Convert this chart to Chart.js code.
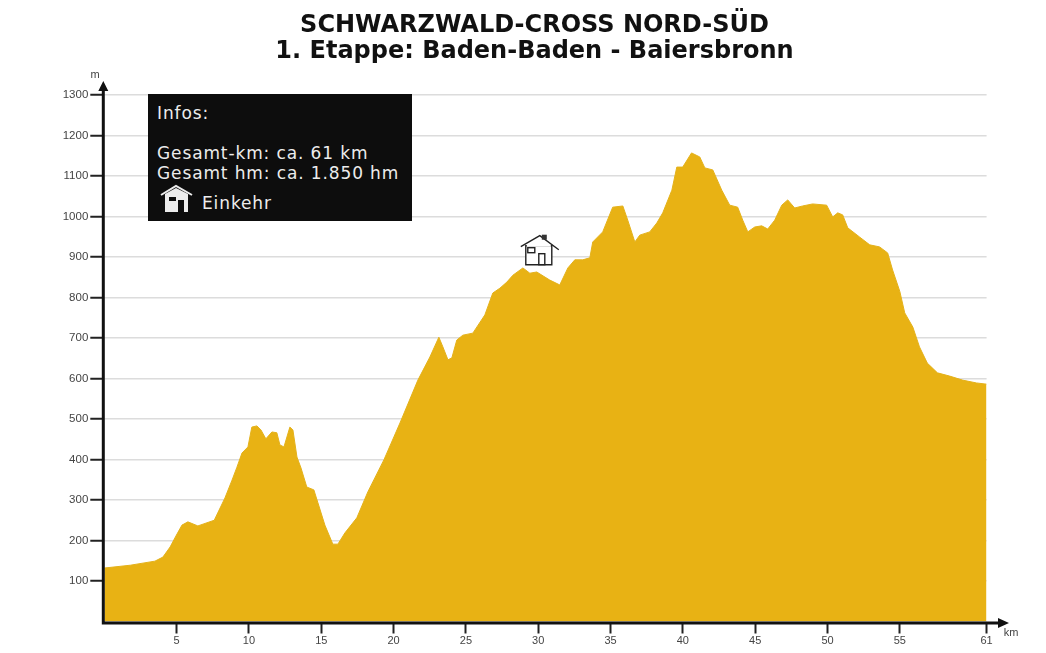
<!DOCTYPE html>
<html lang="de">
<head>
<meta charset="utf-8">
<title>Schwarzwald-Cross Nord-Süd</title>
<script src="https://cdn.jsdelivr.net/npm/chart.js@4"></script>
<style>
  html, body { margin: 0; padding: 0; background: #ffffff; }
  #wrap { position: relative; width: 1046px; height: 653px; overflow: hidden; }
  #titel {
    position: absolute; left: 0; top: 11px; width: 1069px; margin: 0;
    text-align: center; color: #111111;
    font: bold 24px/26px "DejaVu Sans", sans-serif;
  }
  #infos {
    position: absolute; left: 148px; top: 94px; width: 264px; height: 127px;
    background: #0d0d0d; color: #ececec;
    font: 17px "DejaVu Sans", sans-serif;
    letter-spacing: 0.88px;
  }
  #infos span { position: absolute; white-space: nowrap; line-height: 20px; }
  #infos svg { position: absolute; left: 12px; top: 90px; }
</style>
</head>
<body>
<div id="wrap">
  <h1 id="titel">SCHWARZWALD-CROSS NORD-SÜD<br>1. Etappe: Baden-Baden - Baiersbronn</h1>
  <canvas id="profil" width="1046" height="653"></canvas>
  <div id="infos">
    <span style="left:9px;top:9px">Infos:</span>
    <span style="left:9px;top:49px">Gesamt-km: ca. 61 km</span>
    <span style="left:9px;top:69px">Gesamt hm: ca. 1.850 hm</span>
    <span style="left:54px;top:99px">Einkehr</span>
    <svg width="36" height="30" viewBox="0 0 36 30">
      <path d="M1 11 L16 2 L32 11" fill="none" stroke="#ececec" stroke-width="2"/>
      <path d="M5 10 L16 4 L28 10 L28 28 L5 28 Z" fill="#ececec"/>
      <rect x="9" y="13" width="7" height="4" fill="#0d0d0d"/>
      <rect x="18" y="16" width="6" height="12" fill="#0d0d0d"/>
    </svg>
  </div>
</div>
<script>
// Höhenprofil
const streckeKm = [
  0, 1.8, 3.5, 4.05, 4.55, 4.95, 5.37, 5.78, 6.47, 7.6, 8.34, 8.83, 9.17, 9.52, 9.93,
  10.2, 10.55, 10.83, 11.17, 11.59, 11.93, 12.14, 12.42, 12.83, 13.04, 13.32, 13.6,
  14.0, 14.49, 14.77, 15.25, 15.8, 16.15, 16.64, 17.46, 18.22, 19.33, 20.44, 21.68,
  22.51, 23.13, 23.41, 23.76, 24.03, 24.37, 24.79, 25.48, 26.31, 26.86, 27.35, 27.83,
  28.25, 28.94, 29.42, 29.9, 30.8, 31.49, 32.05, 32.53, 33.08, 33.57, 33.77, 34.46,
  35.15, 35.85, 36.19, 36.68, 37.02, 37.71, 38.2, 38.61, 39.24, 39.58, 39.99, 40.6,
  41.17, 41.52, 42.07, 42.69, 43.24, 43.79, 44.14, 44.49, 44.97, 45.45, 45.87, 46.35,
  46.84, 47.25, 47.73, 48.28, 48.97, 49.94, 50.36, 50.71, 51.05, 51.4, 52.23, 52.92,
  53.6, 54.16, 54.5, 55.0, 55.34, 55.9, 56.36, 56.9, 57.6, 58.44, 59.34, 60.3, 61
];
const hoeheM = [
  132, 139, 149, 159, 184, 211, 238, 246, 236, 250, 305, 349, 381, 416, 431,
  480, 483, 473, 451, 468, 466, 436, 431, 480, 473, 406, 379,
  332, 325, 293, 238, 191, 191, 219, 256, 320, 399, 490, 596,
  653, 702, 678, 646, 651, 695, 707, 712, 757, 811, 823, 838,
  855, 873, 860, 863, 843, 831, 873, 893, 893, 898, 937, 962,
  1023, 1026, 991, 937, 954, 962, 984, 1009, 1065, 1122, 1122, 1157,
  1147, 1120, 1115, 1065, 1028, 1023, 991, 962, 974, 977, 969, 991,
  1028, 1041, 1021, 1026, 1031, 1028, 999, 1009, 1004, 972, 949, 930,
  925, 910, 868, 815, 762, 727, 678, 638, 614, 606, 596, 589, 586
];
const kmTicks = [5, 10, 15, 20, 25, 30, 35, 40, 45, 50, 55, 61];
const einkehrKm = [30.04];
const einkehrM = [881];

function zeichneHaus(ctx, x, y) {
  ctx.save();
  ctx.translate(x, y);
  ctx.strokeStyle = "#222222";
  ctx.lineWidth = 1.4;
  ctx.fillStyle = "#ffffff";
  ctx.beginPath();
  ctx.rect(-13, -19, 26, 19);
  ctx.fill();
  ctx.stroke();
  ctx.fillRect(-12, -27, 24, 9);
  ctx.beginPath();
  ctx.moveTo(-18, -18);
  ctx.lineTo(1, -29);
  ctx.lineTo(20, -15);
  ctx.stroke();
  ctx.fillStyle = "#333333";
  ctx.fillRect(3, -30, 5, 5);
  ctx.strokeRect(-11, -17, 7, 5);
  ctx.strokeRect(0, -11, 6, 11);
  ctx.restore();
}

// Achsen mit Pfeilspitzen, Einheiten und das Einkehr-Symbol
const achsenPlugin = {
  id: "achsen",
  afterDatasetsDraw(chart) {
    const { ctx, scales } = chart;
    const x0 = 103.3;
    const y0 = 623;

    einkehrKm.forEach((km, i) => {
      zeichneHaus(ctx, scales.x.getPixelForValue(km), scales.y.getPixelForValue(einkehrM[i]));
    });

    ctx.save();
    ctx.strokeStyle = "#111111";
    ctx.fillStyle = "#111111";
    ctx.lineWidth = 3;
    ctx.beginPath();
    ctx.moveTo(x0, y0 + 1.5);
    ctx.lineTo(x0, 88);
    ctx.moveTo(x0, y0);
    ctx.lineTo(1000, y0);
    ctx.stroke();

    ctx.beginPath();
    ctx.moveTo(x0, 81);
    ctx.lineTo(x0 + 5, 91);
    ctx.lineTo(x0 - 5, 91);
    ctx.closePath();
    ctx.moveTo(1009, y0);
    ctx.lineTo(998, y0 - 5);
    ctx.lineTo(998, y0 + 5);
    ctx.closePath();
    ctx.fill();

    ctx.fillStyle = "#444444";
    ctx.font = '11px "Liberation Sans", sans-serif';
    ctx.textAlign = "center";
    ctx.textBaseline = "middle";
    ctx.fillText("m", 95, 75);
    ctx.fillText("km", 1011, 633);
    ctx.restore();
  },
};

new Chart(document.getElementById("profil").getContext("2d"), {
  type: "line",
  data: {
    datasets: [
      {
        data: streckeKm.map((km, i) => ({ x: km, y: hoeheM[i] })),
        borderColor: "#e4b21c",
        borderWidth: 1,
        backgroundColor: "#e8b214",
        fill: "origin",
        pointRadius: 0,
        tension: 0,
      },
    ],
  },
  options: {
    responsive: false,
    animation: false,
    layout: { padding: { left: 0, right: 59.4, top: 95, bottom: 0 } },
    plugins: {
      legend: { display: false },
      tooltip: { enabled: false },
    },
    scales: {
      x: {
        type: "linear",
        min: 0,
        max: 61,
        afterBuildTicks(scale) {
          scale.ticks = kmTicks.map((value) => ({ value }));
        },
        afterFit(scale) {
          scale.height = 31.5;
        },
        border: { display: false },
        grid: { drawOnChartArea: false, tickColor: "#222222", tickWidth: 2, tickLength: 12 },
        ticks: {
          autoSkip: false,
          maxRotation: 0,
          padding: 1,
          color: "#444444",
          font: { family: "Liberation Sans", size: 11 },
        },
      },
      y: {
        min: 0,
        max: 1300,
        afterFit(scale) {
          scale.width = 104.3;
        },
        border: { display: false },
        grid: {
          color: "#dcdcdc",
          lineWidth: 1.5,
          // an der Null sitzt nur die Rechtsachse, kein Strich
          tickColor: (c) => (c.tick.value === 0 ? "transparent" : "#222222"),
          tickWidth: 2,
          tickLength: 14,
        },
        ticks: {
          stepSize: 100,
          padding: 2,
          color: "#444444",
          font: { family: "Liberation Sans", size: 11.5 },
          // die Null steht im Original nicht an der Achse
          callback: (value) => (value === 0 ? "" : value),
        },
      },
    },
  },
  plugins: [achsenPlugin],
});
</script>
</body>
</html>
